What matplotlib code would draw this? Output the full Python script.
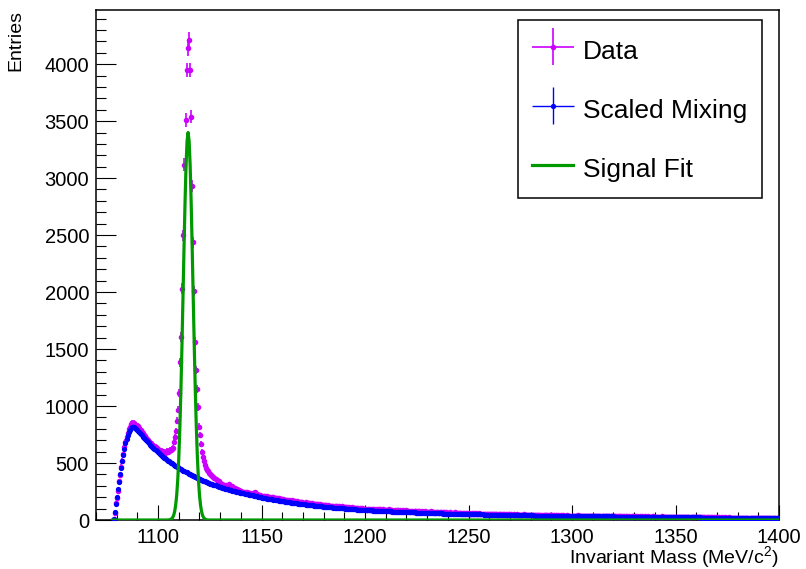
import numpy as np
import matplotlib.pyplot as plt
from matplotlib.container import ErrorbarContainer
from matplotlib.legend_handler import HandlerErrorbar
from matplotlib.ticker import MultipleLocator

plt.rcParams['font.family'] = ['Liberation Sans', 'DejaVu Sans']
plt.rcParams['mathtext.fontset'] = 'custom'
plt.rcParams['mathtext.rm'] = 'Liberation Sans'

# histogram binning (MeV/c^2)
mass_lo, mass_hi, bin_w = 1070.0, 1400.0, 0.5

# p-pi invariant mass, same-event pairs, 20 bins per row (10 MeV)
data_counts = [
    0, 0, 0, 0, 0, 0, 0, 0, 0, 0, 0, 0, 0, 0, 0, 0, 0, 8, 58, 150,
    190, 258, 342, 392, 468, 522, 575, 640, 688, 730, 762, 795, 818, 838, 848, 832, 850, 826, 835, 818,
    822, 805, 790, 792, 770, 760, 748, 735, 720, 712, 705, 688, 680, 672, 660, 648, 652, 640, 628, 622,
    610, 602, 598, 605, 595, 600, 592, 598, 604, 596, 606, 612, 618, 625, 632, 688, 727, 782, 870, 967,
    1114, 1383, 1606, 2031, 2497, 3117, 3510, 3950, 4138, 4214, 3950, 3540, 2930, 2438, 2008, 1562, 1319, 1149, 991, 820,
    747, 666, 600, 557, 515, 484, 458, 440, 428, 415, 405, 398, 384, 378, 368, 360, 352, 346, 338, 325,
    318, 312, 308, 305, 300, 310, 298, 302, 318, 296, 290, 294, 285, 279, 282, 270, 275, 266, 262, 258,
    252, 249, 246, 250, 240, 244, 238, 235, 241, 230, 228, 234, 238, 249, 232, 225, 222, 218, 220, 212,
    214, 206, 209, 212, 199, 207, 203, 197, 205, 194, 199, 201, 190, 196, 192, 185, 193, 188, 181, 186,
    182, 176, 179, 173, 177, 169, 174, 171, 165, 172, 163, 167, 169, 160, 164, 158, 162, 159, 154, 157,
    153, 149, 155, 147, 150, 145, 148, 143, 146, 140, 144, 142, 137, 141, 139, 134, 138, 132, 136, 131,
    133, 128, 131, 126, 129, 127, 123, 127, 121, 125, 122, 119, 124, 117, 121, 118, 115, 119, 114, 116,
    114, 110, 113, 108, 111, 109, 105, 110, 104, 107, 103, 106, 101, 105, 100, 103, 99, 102, 97, 100,
    99, 91, 95, 98, 88, 96, 90, 94, 100, 87, 92, 95, 86, 93, 97, 85, 90, 94, 88, 86,
    91, 84, 88, 93, 82, 87, 90, 83, 86, 81, 89, 84, 80, 87, 83, 79, 86, 81, 78, 84,
    80, 76, 83, 74, 79, 77, 72, 81, 75, 78, 71, 76, 79, 70, 74, 77, 69, 75, 72, 68,
    73, 70, 68, 75, 66, 71, 69, 64, 72, 67, 70, 65, 68, 71, 63, 67, 69, 62, 66, 64,
    65, 62, 67, 60, 64, 61, 66, 59, 63, 60, 58, 64, 61, 57, 63, 59, 56, 62, 60, 57,
    60, 57, 55, 61, 56, 58, 54, 59, 55, 53, 58, 56, 52, 57, 54, 51, 56, 53, 55, 52,
    54, 51, 55, 50, 53, 49, 52, 54, 48, 51, 53, 49, 47, 52, 50, 48, 51, 46, 50, 49,
    48, 50, 46, 49, 45, 47, 49, 44, 46, 48, 43, 47, 45, 49, 44, 46, 42, 45, 47, 43,
    45, 43, 46, 41, 44, 42, 40, 45, 43, 41, 44, 39, 42, 44, 40, 43, 38, 41, 43, 40,
    41, 39, 42, 38, 40, 37, 41, 39, 36, 40, 38, 41, 37, 39, 36, 40, 38, 35, 39, 37,
    38, 36, 39, 35, 37, 40, 36, 34, 38, 36, 33, 37, 35, 38, 34, 36, 32, 35, 37, 34,
    35, 33, 36, 34, 31, 35, 33, 36, 32, 34, 35, 31, 33, 36, 32, 34, 30, 33, 35, 32,
    33, 31, 34, 30, 32, 35, 31, 33, 29, 32, 34, 30, 31, 33, 29, 32, 30, 34, 31, 29,
    31, 29, 32, 28, 30, 33, 29, 31, 28, 30, 32, 27, 29, 31, 28, 30, 27, 29, 31, 28,
    29, 27, 30, 28, 26, 29, 31, 27, 28, 26, 29, 27, 30, 26, 28, 25, 27, 29, 26, 25,
    27, 25, 28, 26, 24, 27, 25, 28, 24, 26, 23, 27, 25, 24, 26, 23, 25, 27, 24, 22,
    25, 23, 26, 22, 24, 25, 22, 24, 23, 21, 24, 22, 25, 21, 23, 22, 20, 23, 21, 22,
    22, 21, 23, 20, 22, 19, 21, 23, 20, 21, 19, 22, 20, 18, 21, 19, 20, 18, 21, 19,
    19, 20, 18, 19, 17, 19, 18, 20, 17, 18, 16, 19, 17, 18, 16, 17, 18, 15, 17, 16,
    17, 16, 18, 15, 16, 17, 14, 16, 15, 17, 14, 16, 15, 13, 16, 14, 15, 13, 15, 14,
]

# event-mixing background after normalisation
mixing_counts = [
    0, 0, 0, 0, 0, 0, 0, 0, 0, 0, 0, 0, 0, 0, 0, 0, 0, 12, 66, 140,
    200, 270, 335, 400, 460, 515, 570, 625, 675, 715, 748, 775, 793, 805, 812, 814, 812, 806, 798, 789,
    780, 771, 762, 752, 742, 732, 722, 712, 702, 692, 682, 672, 662, 652, 642, 632, 622, 612, 603, 594,
    586, 578, 570, 562, 555, 548, 541, 534, 527, 520, 514, 508, 502, 496, 490, 484, 478, 472, 467, 462,
    457, 451, 445, 439, 434, 428, 423, 418, 413, 408, 403, 398, 393, 389, 384, 380, 375, 371, 367, 362,
    358, 354, 350, 346, 342, 338, 334, 330, 327, 323, 320, 316, 313, 309, 306, 303, 300, 296, 293, 290,
    287, 284, 281, 279, 276, 273, 271, 268, 266, 263, 261, 258, 256, 254, 251, 249, 247, 245, 242, 240,
    238, 236, 234, 231, 229, 227, 225, 223, 221, 219, 217, 215, 213, 211, 209, 207, 205, 203, 201, 199,
    197, 195, 193, 192, 190, 188, 186, 185, 183, 181, 180, 178, 176, 175, 173, 172, 170, 169, 167, 166,
    164, 163, 161, 160, 158, 157, 156, 154, 153, 152, 150, 149, 148, 146, 145, 144, 143, 141, 140, 139,
    138, 137, 136, 134, 133, 132, 131, 130, 129, 128, 127, 126, 125, 124, 123, 122, 121, 120, 119, 118,
    117, 116, 115, 114, 113, 112, 111, 110, 110, 109, 108, 107, 106, 106, 105, 104, 103, 102, 102, 101,
    100, 99, 99, 98, 97, 97, 96, 95, 95, 94, 93, 93, 92, 91, 91, 90, 89, 89, 88, 88,
    87, 86, 86, 85, 85, 84, 84, 83, 83, 82, 82, 81, 81, 80, 80, 79, 79, 78, 78, 78,
    77, 77, 76, 76, 75, 75, 74, 74, 73, 73, 73, 72, 72, 71, 71, 71, 70, 70, 70, 69,
    69, 68, 68, 68, 67, 67, 66, 66, 66, 65, 65, 65, 64, 64, 64, 63, 63, 63, 62, 62,
    62, 62, 61, 61, 61, 60, 60, 60, 59, 59, 59, 59, 58, 58, 58, 57, 57, 57, 57, 56,
    56, 56, 56, 55, 55, 55, 55, 54, 54, 54, 54, 53, 53, 53, 53, 52, 52, 52, 52, 52,
    51, 51, 51, 51, 50, 50, 50, 50, 50, 49, 49, 49, 49, 49, 48, 48, 48, 48, 48, 47,
    47, 47, 47, 47, 46, 46, 46, 46, 46, 45, 45, 45, 45, 45, 44, 44, 44, 44, 44, 44,
    43, 43, 43, 43, 43, 42, 42, 42, 42, 42, 42, 41, 41, 41, 41, 41, 41, 40, 40, 40,
    40, 40, 40, 39, 39, 39, 39, 39, 39, 38, 38, 38, 38, 38, 38, 37, 37, 37, 37, 37,
    37, 37, 37, 37, 36, 36, 36, 36, 36, 36, 36, 35, 35, 35, 35, 35, 35, 35, 35, 35,
    35, 35, 35, 35, 34, 34, 34, 34, 34, 34, 34, 34, 33, 33, 33, 33, 33, 33, 33, 33,
    33, 32, 32, 32, 32, 32, 32, 32, 32, 32, 31, 31, 31, 31, 31, 31, 31, 31, 31, 31,
    30, 30, 30, 30, 30, 30, 30, 30, 29, 29, 29, 29, 29, 29, 29, 29, 29, 29, 28, 28,
    28, 28, 28, 28, 28, 28, 28, 28, 27, 27, 27, 27, 27, 27, 27, 27, 27, 26, 26, 26,
    26, 26, 26, 26, 26, 26, 26, 25, 25, 25, 25, 25, 25, 25, 25, 25, 25, 25, 24, 24,
    24, 24, 24, 24, 24, 24, 23, 23, 23, 23, 23, 23, 23, 23, 23, 22, 22, 22, 22, 22,
    22, 22, 22, 22, 21, 21, 21, 21, 21, 21, 21, 21, 21, 20, 20, 20, 20, 20, 20, 20,
    20, 20, 19, 19, 19, 19, 19, 19, 19, 19, 19, 18, 18, 18, 18, 18, 18, 18, 18, 18,
    17, 17, 17, 17, 17, 17, 17, 17, 17, 17, 16, 16, 16, 16, 16, 16, 16, 16, 16, 16,
    15, 15, 15, 15, 15, 15, 15, 15, 15, 15, 15, 14, 14, 14, 14, 14, 14, 14, 14, 14,
]
mixing_err_frac = 0.3

# gaussian signal fit, sampled every 0.5 MeV around the Lambda peak
fit_mass = [1078.0] + list(np.arange(1104.5, 1124.75, 0.5)) + [1400.0]
fit_vals = [0,
            0, 1, 2, 5, 10, 21, 40, 74, 131, 220, 354, 544, 799, 1122, 1505, 1931, 2367, 2773, 3106, 3324,
            3400,
            3324, 3106, 2773, 2367, 1931, 1505, 1122, 799, 544, 354, 220, 131, 74, 40, 21, 10, 5, 2, 1, 0,
            0]

data_counts = np.array(data_counts, dtype=float)
mixing_counts = np.array(mixing_counts, dtype=float)
centers = np.arange(mass_lo + bin_w / 2, mass_hi, bin_w)

fig = plt.figure(figsize=(8.06, 5.69), dpi=100)
ax = fig.add_axes([96 / 806, 49 / 569, 683 / 806, 510 / 569])

sel = data_counts > 0
h_data = ax.errorbar(centers[sel], data_counts[sel], yerr=np.sqrt(data_counts[sel]),
                     xerr=bin_w / 2, fmt='o', color='#cc00ff', ms=4.0, mew=0,
                     elinewidth=1.2, capsize=0, zorder=2, label='Data')
sel = mixing_counts > 0
h_mix = ax.errorbar(centers[sel], mixing_counts[sel],
                    yerr=mixing_err_frac * np.sqrt(mixing_counts[sel]),
                    xerr=bin_w / 2, fmt='o', color='#0000ff', ms=3.8, mew=0,
                    elinewidth=1.0, capsize=0, zorder=3, label='Scaled Mixing')
h_fit, = ax.plot(fit_mass, fit_vals, color='#009a00', lw=2.3, zorder=4, label='Signal Fit')

ax.set_xlim(mass_lo, mass_hi)
ax.set_ylim(0, 4475)

ax.xaxis.set_major_locator(MultipleLocator(50))
ax.xaxis.set_minor_locator(MultipleLocator(10))
ax.yaxis.set_major_locator(MultipleLocator(500))
ax.yaxis.set_minor_locator(MultipleLocator(100))
ax.tick_params(which='both', direction='in', top=False, right=False, width=0.8,
               labelsize=14.5)
ax.tick_params(axis='x', which='major', length=11, pad=6)
ax.tick_params(axis='x', which='minor', length=5.5)
ax.tick_params(axis='y', which='major', length=14.5, pad=5)
ax.tick_params(axis='y', which='minor', length=7.3)
for sp in ax.spines.values():
    sp.set_linewidth(1.1)

ax.set_xlabel('Invariant Mass (MeV/c$^{2}$)', fontsize=14)
ax.xaxis.set_label_coords(1.0, -0.048)
ax.xaxis.label.set_horizontalalignment('right')
ax.set_ylabel('Entries', fontsize=14)
ax.yaxis.set_label_coords(-0.105, 1.0)
ax.yaxis.label.set_horizontalalignment('right')

leg = ax.legend(handles=[h_data, h_mix, h_fit], loc='upper right',
                bbox_to_anchor=(0.975, 0.98), borderaxespad=0, fontsize=19,
                frameon=True, fancybox=False, edgecolor='black', framealpha=1,
                handlelength=1.55, handleheight=1.4, handletextpad=0.38,
                borderpad=0.55, labelspacing=1.09,
                handler_map={ErrorbarContainer: HandlerErrorbar(xerr_size=0.8, yerr_size=0.7)})
leg.get_frame().set_linewidth(1.1)

fig.savefig('out.png', dpi=100)
